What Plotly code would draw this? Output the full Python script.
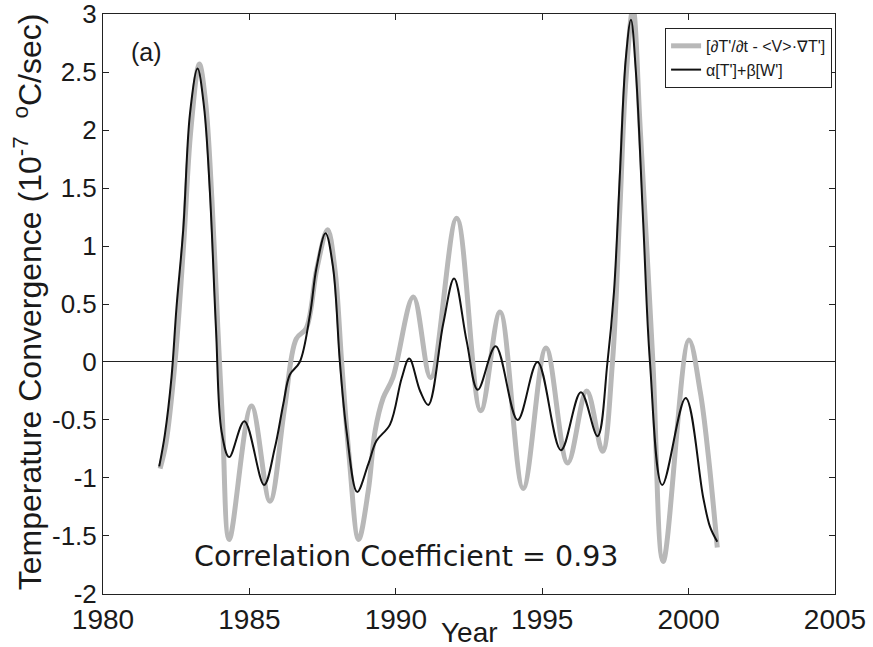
import plotly.graph_objects as go

# ---- data ----
black_year = [1981.92, 1982.11, 1982.34, 1982.51, 1982.74, 1982.97, 1983.23, 1983.45, 1983.65, 1983.86, 1984.05,
              1984.31, 1984.83, 1985.50, 1985.87, 1986.16, 1986.38, 1986.72, 1987.07, 1987.29, 1987.60, 1987.86,
              1988.09, 1988.32, 1988.68, 1989.06, 1989.34, 1989.80, 1990.20, 1990.46, 1990.83, 1991.11, 1991.62,
              1991.99, 1992.42, 1992.80, 1993.41, 1994.16, 1994.84, 1995.64, 1996.32, 1996.89, 1997.23, 1997.45,
              1997.65, 1997.85, 1998.03, 1998.20, 1998.45, 1998.68, 1999.10, 1999.90, 2000.50, 2000.73, 2000.98]
black_val = [-0.90, -0.63, -0.13, 0.47, 1.14, 2.14, 2.53, 2.20, 1.47, 0.28, -0.60,
             -0.82, -0.51, -1.06, -0.74, -0.36, -0.11, 0.00, 0.41, 0.81, 1.11, 0.81,
             0.00, -0.60, -1.12, -0.88, -0.68, -0.54, -0.14, 0.03, -0.25, -0.37, 0.33,
             0.72, 0.18, -0.24, 0.135, -0.50, 0.00, -0.76, -0.26, -0.64, 0.00, 0.60,
             1.60, 2.60, 2.95, 2.50, 1.20, 0.00, -1.06, -0.31, -1.17, -1.42, -1.55]

gray_year = [1981.95, 1982.15, 1982.46, 1982.75, 1983.00, 1983.29, 1983.50, 1983.72, 1983.92, 1984.08,
             1984.31, 1985.07, 1985.70, 1986.20, 1986.60, 1986.94, 1987.30, 1987.67, 1987.92, 1988.15,
             1988.40, 1988.73, 1989.06, 1989.29, 1989.57, 1989.90, 1990.60, 1991.19, 1992.08, 1992.90,
             1993.56, 1994.35, 1995.13, 1995.87, 1996.52, 1997.06, 1997.40, 1997.65, 1997.85, 1998.10,
             1998.35, 1998.78, 1999.13, 2000.01, 2000.40, 2000.67, 2000.98]
gray_val = [-0.92, -0.70, 0.00, 1.00, 2.00, 2.57, 2.25, 1.40, 0.30, -0.50,
            -1.53, -0.38, -1.20, -0.40, 0.20, 0.29, 0.80, 1.14, 0.80, 0.00,
            -0.80, -1.53, -1.11, -0.60, -0.31, -0.135, 0.56, -0.135, 1.24, -0.42,
            0.43, -1.09, 0.12, -0.87, -0.25, -0.77, 0.00, 1.30, 2.40, 3.05,
            2.00, 0.00, -1.72, 0.19, -0.26, -0.80, -1.60]

x_ticks = [1980, 1985, 1990, 1995, 2000, 2005]
y_ticks = [-2, -1.5, -1, -0.5, 0, 0.5, 1, 1.5, 2, 2.5, 3]
y_tick_text = ["-2", "-1.5", "-1", "-0.5", "0", "0.5", "1", "1.5", "2", "2.5", "3"]

name_gray = "[∂T'/∂t - &lt;V&gt;·∇T']"
name_black = "α[T']+β[W']"

FONT = "Liberation Sans, Arial, Helvetica, sans-serif"
WIDE = "DejaVu Sans, Liberation Sans, sans-serif"

fig = go.Figure()
fig.add_trace(go.Scatter(x=gray_year, y=gray_val, mode="lines", name=name_gray,
                         line=dict(color="#b8b8b8", width=5, shape="spline", smoothing=1.0)))
fig.add_trace(go.Scatter(x=black_year, y=black_val, mode="lines", name=name_black,
                         line=dict(color="#111111", width=2, shape="spline", smoothing=1.0)))

fig.update_layout(
    width=873, height=647,
    margin=dict(l=103, r=38, t=14, b=53, autoexpand=False),
    paper_bgcolor="white", plot_bgcolor="white",
    font=dict(family=FONT, color="#1a1a1a"),
    showlegend=True,
    legend=dict(x=0.996, y=0.976, xanchor="right", yanchor="top",
                bgcolor="white", bordercolor="#222222", borderwidth=1,
                font=dict(size=16, family=FONT), tracegroupgap=0,
                itemwidth=30),
    xaxis=dict(range=[1980, 2005], tickvals=x_ticks, ticktext=[str(t) for t in x_ticks],
               ticks="inside", ticklen=6, tickcolor="#222222", showgrid=False,
               showline=True, linecolor="#222222", linewidth=1, mirror="allticks",
               zeroline=False, tickfont=dict(size=28, family=FONT), ticklabeloverflow="allow",
               automargin=False),
    yaxis=dict(range=[-2.0005, 3.0005], tickvals=y_ticks, ticktext=y_tick_text,
               ticks="inside", ticklen=6, tickcolor="#222222", showgrid=False,
               showline=True, linecolor="#222222", linewidth=1, mirror="allticks",
               zeroline=True, zerolinecolor="#222222", zerolinewidth=1,
               tickfont=dict(size=26, family=FONT), ticklabeloverflow="allow",
               automargin=False),
    annotations=[
        dict(text="(a)", xref="paper", yref="paper", x=0.035, y=0.935, xanchor="left", yanchor="middle",
             showarrow=False, font=dict(size=25, family=FONT)),
        dict(text="Correlation Coefficient = 0.93", xref="x", yref="y", x=1990.35, y=-1.68,
             xanchor="center", yanchor="middle", showarrow=False, font=dict(size=28.5, family=WIDE)),
        dict(text="Year", xref="paper", yref="paper", x=0.5, y=-0.067,
             xanchor="center", yanchor="middle", showarrow=False, font=dict(size=28, family=FONT)),
        dict(text="Temperature Convergence (10<sup>-7</sup>  <sup>o</sup>C/sec)", xref="paper", yref="paper",
             x=-0.103, y=0.504, xanchor="center", yanchor="middle", textangle=-90,
             showarrow=False, font=dict(size=32, family=FONT)),
    ],
)

fig.write_html("out.html")
